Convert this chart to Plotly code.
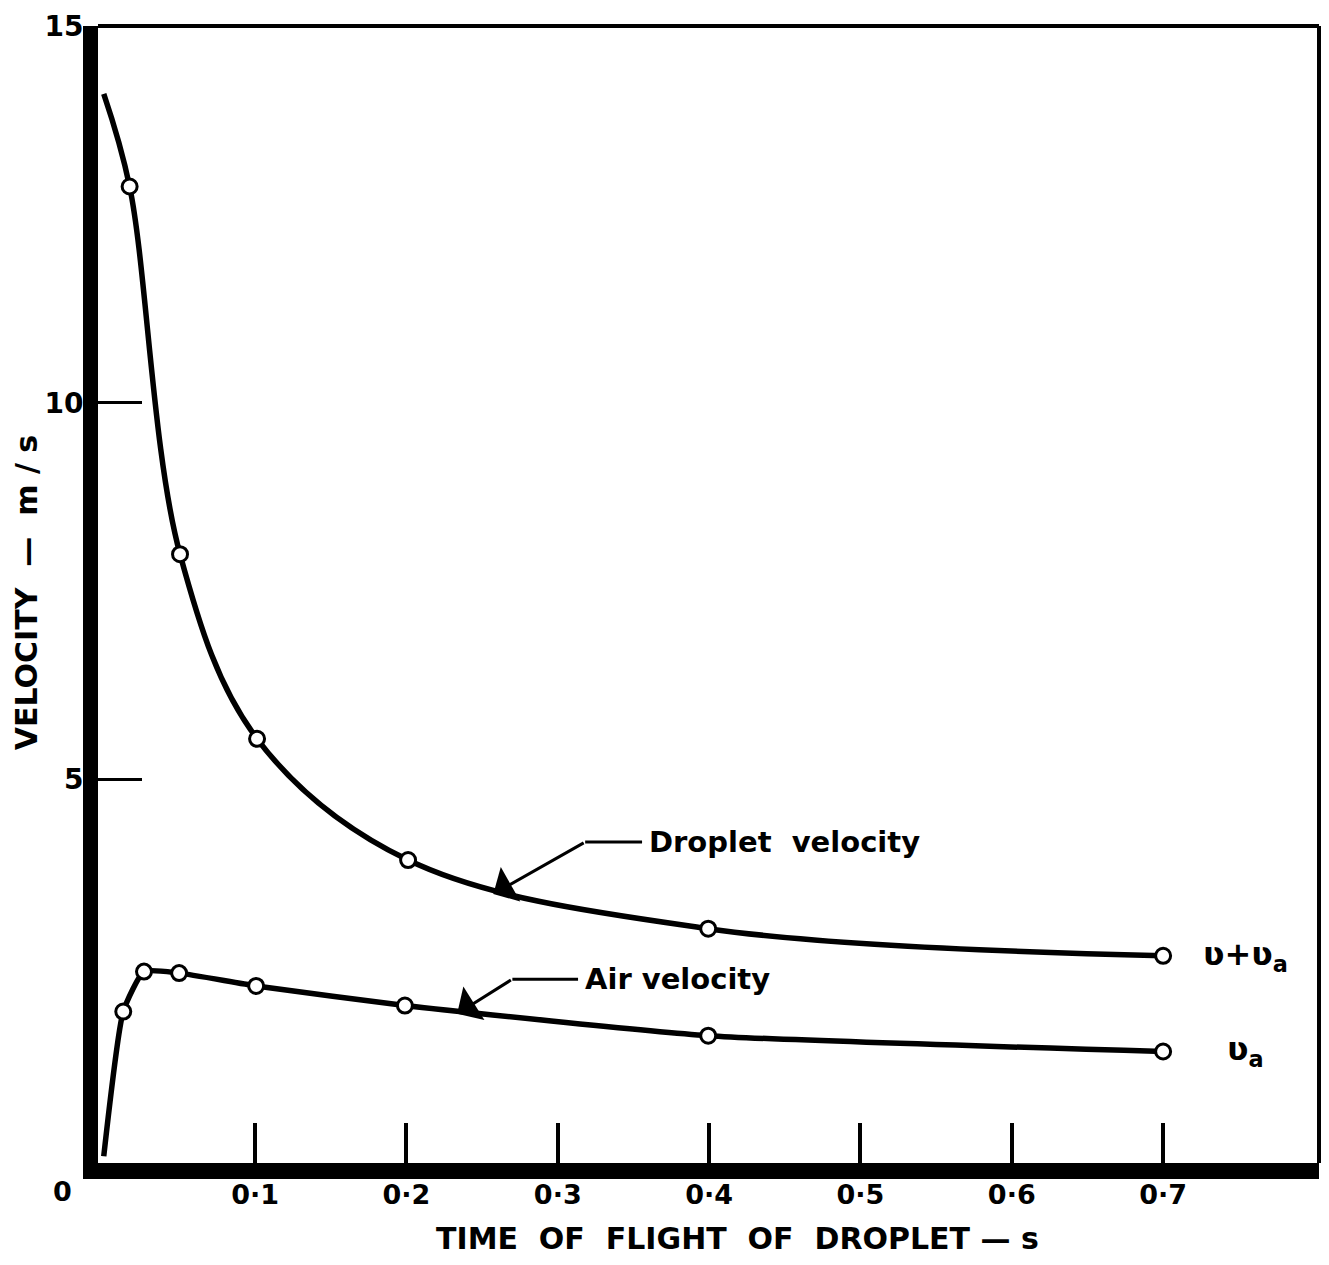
import plotly.graph_objects as go

# ---- data ----
drop_t = [0.0, 0.0171, 0.0504, 0.1013, 0.2011, 0.3994, 0.7000]
drop_v = [14.10, 12.87, 7.99, 5.54, 3.93, 3.02, 2.66]
drop_mark_t = [0.0171, 0.0504, 0.1013, 0.2011, 0.3994, 0.7000]
drop_mark_v = [12.87, 7.99, 5.54, 3.93, 3.02, 2.66]

air_t = [0.0, 0.0129, 0.0266, 0.0498, 0.1007, 0.1990, 0.3994, 0.7000]
air_v = [0.00, 1.92, 2.45, 2.43, 2.26, 2.00, 1.60, 1.39]
air_mark_t = [0.0129, 0.0266, 0.0498, 0.1007, 0.1990, 0.3994, 0.7000]
air_mark_v = [1.92, 2.45, 2.43, 2.26, 2.00, 1.60, 1.39]

x_tickvals = [0.1, 0.2, 0.3, 0.4, 0.5, 0.6, 0.7]
x_ticktext = ["0·1", "0·2", "0·3", "0·4", "0·5", "0·6", "0·7"]
y_tickvals = [5, 10, 15]
y_ticktext = ["5", "10", "15"]

FONT = "DejaVu Sans"
BOLD = dict(family=FONT, color="black", weight="bold")

fig = go.Figure()

fig.add_trace(go.Scatter(x=drop_t, y=drop_v, mode="lines",
                         line=dict(color="black", width=5.5, shape="spline", smoothing=1.0),
                         showlegend=False, hoverinfo="skip"))
fig.add_trace(go.Scatter(x=air_t, y=air_v, mode="lines",
                         line=dict(color="black", width=5.5, shape="spline", smoothing=0.5),
                         showlegend=False, hoverinfo="skip"))
fig.add_trace(go.Scatter(x=drop_mark_t, y=drop_mark_v, mode="markers",
                         marker=dict(symbol="circle", size=15, color="white",
                                     line=dict(color="black", width=3)),
                         showlegend=False))
fig.add_trace(go.Scatter(x=air_mark_t, y=air_mark_v, mode="markers",
                         marker=dict(symbol="circle", size=15, color="white",
                                     line=dict(color="black", width=3)),
                         showlegend=False))

fig.update_xaxes(range=[-0.0038, 0.803], showgrid=False, zeroline=False,
                 showline=True, linewidth=16, linecolor="black",
                 ticks="inside", ticklen=40, tickwidth=4, tickcolor="black",
                 tickvals=x_tickvals, ticktext=x_ticktext,
                 ticklabelstandoff=-7, ticklabeloverflow="allow",
                 tickfont=dict(BOLD, size=27))
fig.update_yaxes(range=[-0.09, 15], showgrid=False, zeroline=False,
                 showline=True, linewidth=15, linecolor="black",
                 ticks="inside", ticklen=44, tickwidth=3, tickcolor="black",
                 tickvals=y_tickvals, ticktext=y_ticktext,
                 ticklabelstandoff=-6, ticklabeloverflow="allow",
                 tickfont=dict(BOLD, size=28))

anns = []
anns.append(dict(text="0", xref="paper", yref="paper", x=-0.0287, y=-0.0254,
                 showarrow=False, font=dict(BOLD, size=27),
                 xanchor="center", yanchor="middle"))
anns.append(dict(text="TIME  OF  FLIGHT  OF  DROPLET — s", xref="paper", yref="paper",
                 x=0.524, y=-0.0666, showarrow=False,
                 font=dict(BOLD, size=30),
                 xanchor="center", yanchor="middle"))
anns.append(dict(text="VELOCITY  —  m / s", xref="paper", yref="paper",
                 x=-0.059, y=0.502, showarrow=False, textangle=-90,
                 font=dict(BOLD, size=30),
                 xanchor="center", yanchor="middle"))
anns.append(dict(text="Droplet  velocity", x=0.3590, y=4.17, xref="x", yref="y",
                 showarrow=False, xanchor="left", yanchor="middle",
                 font=dict(BOLD, size=29)))
anns.append(dict(text="Air velocity", x=0.3165, y=2.35, xref="x", yref="y",
                 showarrow=False, xanchor="left", yanchor="middle",
                 font=dict(BOLD, size=29)))
anns.append(dict(text="", x=0.2574, y=3.48, ax=0.3181, ay=4.17, xref="x", yref="y",
                 axref="x", ayref="y", showarrow=True, arrowhead=1, arrowsize=2.2,
                 arrowwidth=3, arrowcolor="black"))
anns.append(dict(text="", x=0.2335, y=1.89, ax=0.2700, ay=2.35, xref="x", yref="y",
                 axref="x", ayref="y", showarrow=True, arrowhead=1, arrowsize=2.2,
                 arrowwidth=3, arrowcolor="black"))
anns.append(dict(text="ʋ+ʋ<sub>a</sub>", x=0.725, y=2.66, xref="x", yref="y",
                 showarrow=False, xanchor="left", yanchor="middle",
                 font=dict(BOLD, size=32)))
anns.append(dict(text="ʋ<sub>a</sub>", x=0.741, y=1.39, xref="x", yref="y",
                 showarrow=False, xanchor="left", yanchor="middle",
                 font=dict(BOLD, size=32)))

shapes = [
    dict(type="line", xref="paper", yref="paper", x0=0, x1=1, y0=1, y1=1,
         line=dict(color="black", width=4)),
    dict(type="line", xref="paper", yref="paper", x0=1, x1=1, y0=0, y1=1,
         line=dict(color="black", width=4)),
    dict(type="line", xref="x", yref="y", x0=0.3181, x1=0.3557, y0=4.17, y1=4.17,
         line=dict(color="black", width=3)),
    dict(type="line", xref="x", yref="y", x0=0.2700, x1=0.3134, y0=2.35, y1=2.35,
         line=dict(color="black", width=3)),
]

# page body adds an 8px margin, so the figure is sized to fit the window
fig.update_layout(width=1313, height=1249, margin=dict(l=90, r=2, t=14, b=94),
                  plot_bgcolor="white", paper_bgcolor="white",
                  annotations=anns, shapes=shapes, showlegend=False)

fig.write_html("out.html")
